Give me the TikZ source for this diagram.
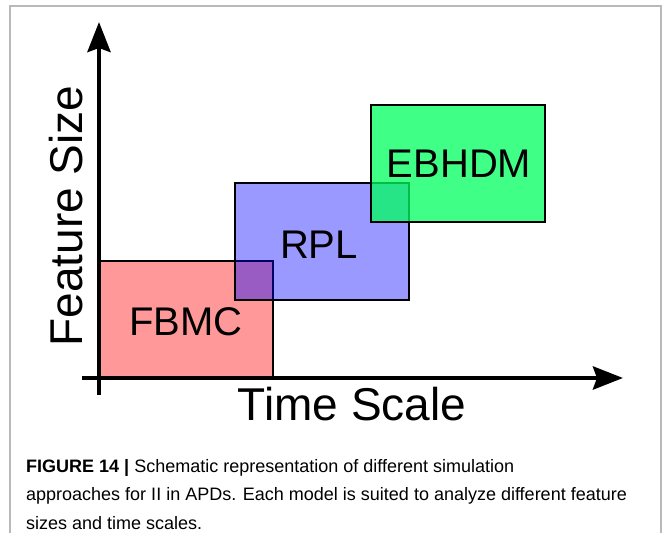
\documentclass[tikz,border=0pt]{standalone}
\usepackage{fontspec}
\setmainfont{Liberation Sans}
\usetikzlibrary{arrows.meta}
\definecolor{ebgreen}{RGB}{0,255,95}
\begin{document}
\begin{tikzpicture}[x=1pt,y=1pt,
	box/.style={draw=black,line width=2pt,fill opacity=0.4},
	axis/.style={line width=4.5pt,-{Stealth[length=30pt,width=23pt,inset=4pt]}},
	big/.style={font=\fontsize{40}{48}\selectfont}]
	    \useasboundingbox (0,0) rectangle (664,533);
	    \draw[gray!55,line width=1.5pt] (10,0) -- (10,527) -- (661,527) -- (661,0);
	    % model boxes
	    \draw[box,fill=red] (99,155) rectangle (273,272);
	    \draw[box,fill=blue] (235,233) rectangle (409,350);
	    \draw[box,fill=ebgreen,fill opacity=0.75] (371,311) rectangle (545,428);
	    \node[big] (FBMC) at (186,211) {FBMC};
	    \node[big] (RPL) at (319,288) {RPL};
	    \node[big] (EBHDM) at (459,369) {EBHDM};
	    % axes
	    \coordinate (Y0) at (99,138);
	    \coordinate (Y1) at (99,511);
	    \coordinate (X0) at (82,155);
	    \coordinate (X1) at (623,155);
	    \draw[axis] (Y0) -- (Y1);
	    \draw[axis] (X0) -- (X1);
	    \node[font=\fontsize{46}{55}\selectfont] (T) at (352,129) {Time Scale};
	    \node[font=\fontsize{46}{55}\selectfont,rotate=90] (S) at (66,317) {Feature Size};
	    % caption
	    \node[anchor=base west,align=left,inner sep=0pt,font=\fontsize{18}{28.5}\selectfont] (cap) at (26,4)
	    {\textbf{FIGURE 14 |} Schematic representation of different simulation\\
	    approaches for II in APDs. Each model is suited to analyze different feature\\
	    sizes and time scales.};
\end{tikzpicture}
\end{document}
